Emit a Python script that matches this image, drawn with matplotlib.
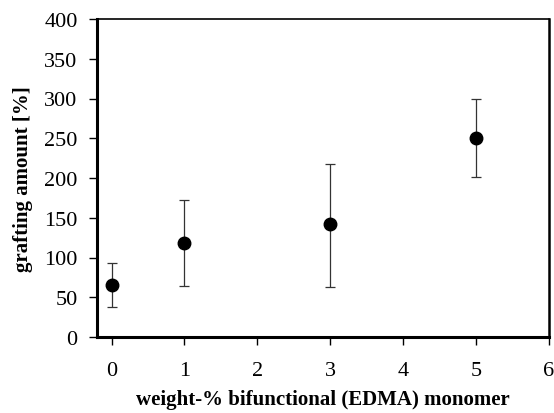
import matplotlib
matplotlib.use("Agg")
import matplotlib.pyplot as plt

# data
edma = [0, 1, 3, 5]
grafting = [65, 118, 142, 250]
err_low = [38, 64, 63, 201]
err_high = [93, 172, 218, 300]

yerr = [[g - lo for g, lo in zip(grafting, err_low)],
        [hi - g for g, hi in zip(grafting, err_high)]]

plt.rcParams['font.family'] = ['Liberation Serif', 'DejaVu Serif']

fig = plt.figure(figsize=(5.54, 4.14), dpi=100)
ax = fig.add_axes([97/554, 1 - 338/414, (549-97)/554, (338-20)/414])

ax.errorbar(edma, grafting, yerr=yerr, fmt='o', color='black', ms=9,
            ecolor='#333333', elinewidth=0.9, capsize=3.3, capthick=0.9)

ax.set_xlim(-0.2, 6)
ax.set_ylim(0, 400)
ax.set_xticks(range(0, 7))
ax.set_yticks(range(0, 401, 50))
ax.tick_params(direction='out', length=6, width=1, labelsize=16)
ax.tick_params(axis='x', pad=11)
ax.tick_params(axis='y', pad=8)

for side, lw in [('left', 2.2), ('bottom', 2.2), ('top', 1.2), ('right', 1.8)]:
    ax.spines[side].set_linewidth(lw)

ax.set_xlabel("weight-% bifunctional (EDMA) monomer", fontsize=15, fontweight='bold', labelpad=7)
ax.set_ylabel("grafting amount [%]", fontsize=15, fontweight='bold', labelpad=8)

fig.savefig("out.png", dpi=100)
